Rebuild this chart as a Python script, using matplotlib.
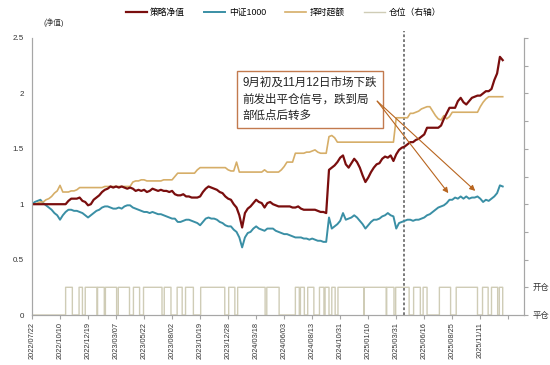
import matplotlib
matplotlib.use("Agg")
import matplotlib.pyplot as plt
import numpy as np

plt.rcParams['font.family'] = ['Liberation Sans', 'Noto Sans CJK SC', 'DejaVu Sans']

STEP = 5  # trading days between samples

strategy = [
    1.00,1.00,1.00,1.00,1.00,1.00,1.00,1.00,1.00,1.00,
    1.00,1.00,1.00,1.03,1.05,1.05,1.05,1.06,1.03,1.02,
    0.99,1.00,1.04,1.06,1.08,1.11,1.13,1.14,1.16,1.15,
    1.16,1.15,1.16,1.15,1.14,1.15,1.14,1.12,1.13,1.12,
    1.13,1.11,1.12,1.14,1.13,1.12,1.13,1.12,1.12,1.11,
    1.12,1.09,1.08,1.08,1.09,1.07,1.07,1.06,1.06,1.06,
    1.07,1.11,1.14,1.16,1.15,1.14,1.13,1.11,1.10,1.07,
    1.05,1.04,1.00,0.97,0.90,0.79,0.92,0.96,0.98,1.01,
    1.04,1.02,1.01,0.97,1.01,1.02,1.00,0.99,0.98,0.98,
    0.98,0.98,0.98,0.97,0.97,0.98,0.96,0.95,0.95,0.95,
    0.95,0.95,0.94,0.93,0.93,0.92,1.31,1.33,1.35,1.38,
    1.42,1.44,1.36,1.33,1.37,1.41,1.38,1.33,1.26,1.20,
    1.24,1.29,1.33,1.36,1.37,1.41,1.43,1.42,1.44,1.39,
    1.45,1.49,1.51,1.52,1.54,1.56,1.56,1.58,1.59,1.61,
    1.63,1.69,1.69,1.69,1.69,1.69,1.71,1.77,1.82,1.87,
    1.87,1.87,1.93,1.96,1.92,1.90,1.93,1.96,1.97,1.98,
    1.98,2.00,2.02,2.02,2.04,2.12,2.18,2.33,2.30,
]

csi1000 = [
    1.00,1.02,1.03,1.04,1.01,0.99,0.97,0.95,0.92,0.90,
    0.86,0.90,0.93,0.95,0.95,0.94,0.94,0.93,0.92,0.90,
    0.88,0.90,0.92,0.94,0.95,0.97,0.98,0.98,0.97,0.96,
    0.96,0.97,0.96,0.98,0.99,0.99,0.97,0.96,0.95,0.94,
    0.93,0.93,0.92,0.93,0.92,0.91,0.91,0.90,0.89,0.88,
    0.87,0.87,0.84,0.84,0.85,0.86,0.86,0.85,0.84,0.83,
    0.81,0.84,0.87,0.88,0.87,0.87,0.86,0.84,0.83,0.81,
    0.80,0.80,0.77,0.75,0.70,0.61,0.70,0.74,0.75,0.78,
    0.80,0.78,0.77,0.76,0.78,0.78,0.78,0.76,0.75,0.74,
    0.73,0.73,0.72,0.71,0.70,0.70,0.70,0.69,0.69,0.68,
    0.69,0.68,0.67,0.67,0.66,0.66,0.88,0.78,0.80,0.82,
    0.85,0.92,0.86,0.87,0.88,0.90,0.88,0.85,0.82,0.78,
    0.81,0.84,0.86,0.86,0.87,0.89,0.90,0.92,0.90,0.89,
    0.78,0.83,0.84,0.85,0.86,0.86,0.85,0.86,0.86,0.87,
    0.88,0.90,0.91,0.93,0.95,0.97,0.98,0.99,1.01,1.04,
    1.04,1.06,1.05,1.07,1.05,1.07,1.05,1.06,1.06,1.07,
    1.05,1.02,1.04,1.03,1.05,1.07,1.10,1.17,1.16,
]

timing_excess = [
    1.00,1.00,1.01,1.02,1.02,1.04,1.05,1.07,1.10,1.12,
    1.17,1.11,1.11,1.11,1.12,1.12,1.13,1.15,1.15,1.15,
    1.15,1.15,1.15,1.15,1.15,1.15,1.16,1.16,1.16,1.16,
    1.16,1.16,1.16,1.16,1.16,1.16,1.20,1.21,1.21,1.22,
    1.22,1.21,1.21,1.21,1.21,1.21,1.21,1.22,1.22,1.22,
    1.22,1.25,1.28,1.28,1.28,1.28,1.28,1.28,1.28,1.31,
    1.33,1.33,1.33,1.33,1.33,1.33,1.33,1.33,1.33,1.33,
    1.31,1.30,1.30,1.38,1.29,1.29,1.29,1.29,1.29,1.29,
    1.29,1.29,1.29,1.31,1.29,1.29,1.29,1.29,1.29,1.31,
    1.34,1.38,1.38,1.38,1.46,1.46,1.46,1.46,1.47,1.47,
    1.48,1.49,1.47,1.46,1.46,1.46,1.61,1.62,1.60,1.56,
    1.56,1.56,1.56,1.56,1.56,1.56,1.56,1.56,1.56,1.56,
    1.56,1.56,1.56,1.56,1.56,1.56,1.56,1.56,1.56,1.56,
    1.78,1.78,1.78,1.78,1.78,1.82,1.82,1.83,1.84,1.86,
    1.87,1.88,1.88,1.84,1.80,1.77,1.76,1.80,1.77,1.79,
    1.83,1.83,1.83,1.83,1.83,1.83,1.83,1.83,1.83,1.83,
    1.88,1.92,1.95,1.97,1.97,1.97,1.97,1.97,1.97,
]

# open-position periods (trading-day index, start/end)
open_start = [60, 84, 95, 117, 131, 154, 181, 199, 236, 259, 274, 301, 351, 367, 419,
              470, 479, 492, 513, 523, 535, 546, 593, 633, 649, 681, 698, 727, 757, 804, 820, 834]
open_end = [72, 90, 116, 129, 151, 174, 192, 232, 248, 268, 288, 344, 362, 416, 441,
            477, 486, 503, 521, 530, 541, 592, 632, 646, 673, 693, 705, 747, 795, 814, 831, 840]

date_labels = ['2022/07/22', '2022/10/10', '2022/12/19', '2023/03/07', '2023/05/22',
               '2023/08/02', '2023/10/19', '2023/12/28', '2024/03/18', '2024/06/03',
               '2024/08/13', '2024/10/31', '2025/01/10', '2025/03/31', '2025/06/16',
               '2025/08/25', '2025/11/11', '']
TICK_STEP = 50
split_day = 664

legend_names = ['策略净值', '中证1000', '择时超额', '仓位（右轴）']
annotation = '9月初及11月12日市场下跌\n前发出平仓信号，跌到局\n部低点后转多'
arrow_targets_x = [743, 791]
arrow_targets_y = [1.10, 1.12]

c_strat = '#7A0E0E'
c_csi = '#3A8FA5'
c_gold = '#D6AE68'
c_pos = '#CFCCB6'
c_axis = '#A6A6A6'

fig = plt.figure(figsize=(5.5, 3.65), dpi=100)
ax = fig.add_axes([32/550, 1-315/365, (524-32)/550, (315-38)/365])
ax2 = ax.twinx()

x = np.arange(len(strategy)) * STEP
l1, = ax.plot(x, strategy, color=c_strat, lw=1.6, zorder=4)
l2, = ax.plot(x, csi1000, color=c_csi, lw=1.4, zorder=3)
l3, = ax.plot(x, timing_excess, color=c_gold, lw=1.2, zorder=3)

days = np.arange(0, 841)
pos = np.zeros(len(days))
for s, e in zip(open_start, open_end):
    pos[(days >= s) & (days < e)] = 1
l4, = ax2.plot(days, pos, color=c_pos, lw=1.0, drawstyle='steps-post')

ax.set_xlim(0, 878)
ax.set_ylim(0, 2.5)
ax2.set_ylim(0, 10)
ax.set_yticks([0, 0.5, 1, 1.5, 2, 2.5])
ax.set_yticklabels(['0', '0.5', '1', '1.5', '2', '2.5'])
ax.set_xticks(np.arange(len(date_labels)) * TICK_STEP)
ax.set_xticklabels(date_labels, rotation=90, fontsize=5.3, color='#333333')
ax.tick_params(axis='y', length=0, labelsize=5.8, colors='#333333', pad=6)
ax.tick_params(axis='x', length=3, color=c_axis, pad=2)
ax2.set_yticks(np.arange(0, 11))
ax2.set_yticklabels(['平仓', '开仓'] + [''] * 9, fontsize=6)
ax2.tick_params(axis='y', length=3, color=c_axis, labelcolor='#333333', pad=3)

for a in (ax, ax2):
    a.spines['top'].set_visible(False)
    for s in ('left', 'right', 'bottom'):
        a.spines[s].set_color(c_axis)
        a.spines[s].set_linewidth(0.8)

ax.axvline(split_day, ymin=0, ymax=1.025, color='#707070', ls=(0, (1.5, 1.2)), lw=1.3,
           clip_on=False, zorder=2)

fig.text(43/550, 1-23/365, '(净值)', fontsize=5.5, color='#333333', va='center')

ax.text(376, 2.15, annotation, fontsize=8.3, color='#222222', va='top', ha='left',
        linespacing=1.5,
        bbox=dict(boxstyle='square,pad=0.5', fc='white', ec='#C27A4E', lw=1.0), zorder=6)
for tx, ty in zip(arrow_targets_x, arrow_targets_y):
    ax.annotate('', xy=(tx, ty), xytext=(616, 1.93),
                arrowprops=dict(arrowstyle='-|>', color='#B8651F', lw=0.8,
                                mutation_scale=8, shrinkA=0, shrinkB=0), zorder=6)

fig.legend([l1, l2, l3, l4], legend_names, loc='center', bbox_to_anchor=(0.515, 0.966),
           ncol=4, frameon=False, fontsize=6.3, handlelength=2.4, columnspacing=2.2,
           handletextpad=0.4)

fig.savefig('out.png', dpi=100)
